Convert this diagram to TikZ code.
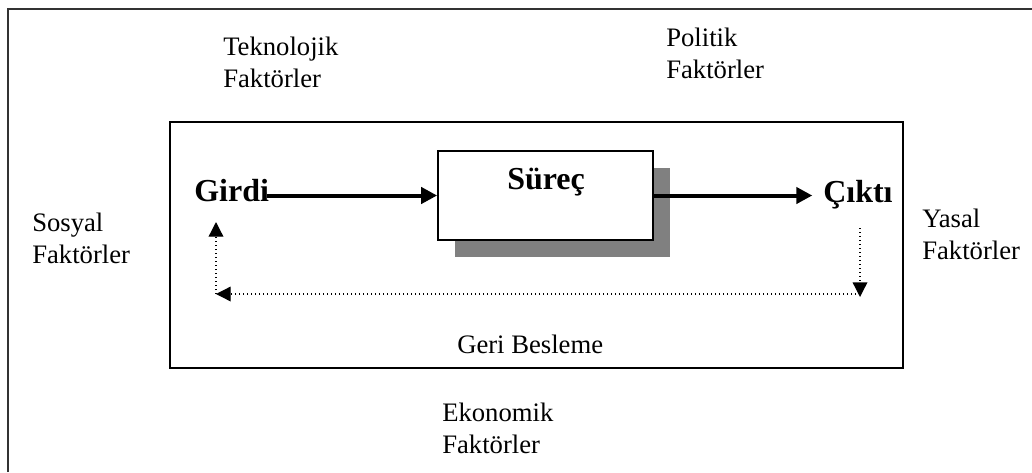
\documentclass[tikz,border=0pt]{standalone}
\usepackage{fontspec}
\setmainfont{Liberation Serif}
\usetikzlibrary{arrows.meta,shadows}

\begin{document}
\begin{tikzpicture}[x=0.75pt,y=-0.75pt,
  factor/.style={anchor=base west, align=left, inner sep=0pt,
    font=\fontsize{20}{23.5}\selectfont},
  stage/.style={anchor=base west, inner sep=0pt,
    font=\fontsize{24}{28}\selectfont\bfseries},
  procbox/.style={draw, fill=white, line width=1.5pt, inner sep=0pt,
    minimum width=161pt, minimum height=67pt,
    drop shadow={shadow xshift=12.75pt, shadow yshift=-12.75pt,
      fill=black!50, opacity=1}},
  flow/.style={line width=3pt, -{Triangle[length=12pt,width=12pt]}},
  feedback/.style={line width=1pt, dotted, -{Triangle[length=11pt,width=11pt]}}]
\useasboundingbox (0,0) rectangle (1032,472);
% outer frame, cut off at right and bottom
\draw[black!80, line width=1.6pt] (8,472) -- (8,9) -- (1032,9);
% system boundary
\draw[line width=1.1pt] (170,122) rectangle (903,368);
% process
\node[procbox] (surec) at (545.5,195.5) {};
\node[stage] (surectxt) at (507,189) {Süreç};
\node[stage] (girdi) at (194,201) {Girdi};
\node[stage] (cikti) at (823,202) {Çıktı};
% environment (base = last line)
\node[factor] (tekno) at (223,87) {Teknolojik\\Faktörler};
\node[factor] (polit) at (666,78) {Politik\\Faktörler};
\node[factor] (sosyal) at (32,263) {Sosyal\\Faktörler};
\node[factor] (yasal) at (922,259) {Yasal\\Faktörler};
\node[factor] (ekon) at (442,453) {Ekonomik\\Faktörler};
\node[factor] (geri) at (457,353) {Geri Besleme};
% main flow
\draw[flow] ([xshift=-2pt]girdi.base east |- surec.west) -- (surec.west);
\draw[flow] (surec.east) -- ([xshift=-8pt]cikti.base west |- surec.east);
% feedback loop
\coordinate (fbout) at (860,228);
\coordinate (fbright) at (860,294);
\coordinate (fbleft) at (216,294);
\coordinate (fbin) at (216,222);
\draw[feedback] (fbout) -- ([yshift=-2.25pt]fbright);
\draw[feedback] (fbright) -- (fbleft);
\draw[feedback] (fbleft) -- (fbin);
\end{tikzpicture}
\end{document}
